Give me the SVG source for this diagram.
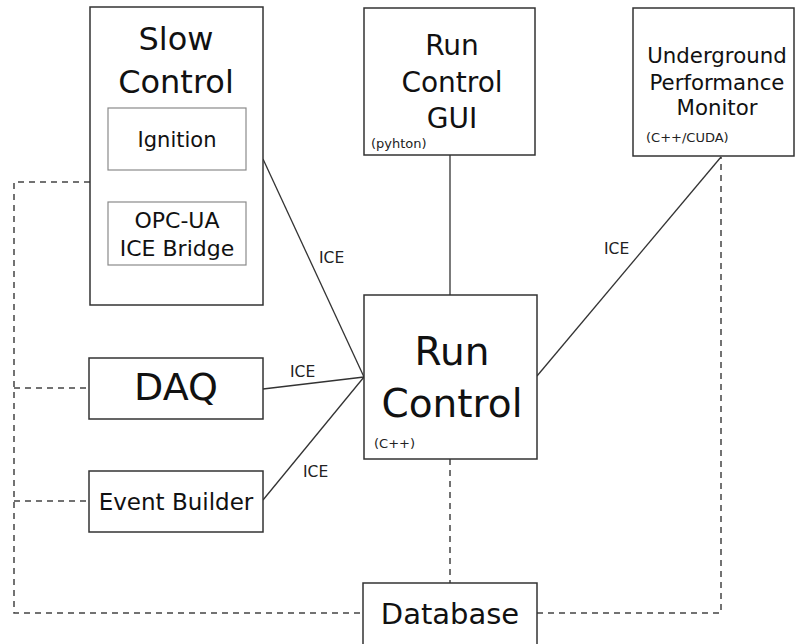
<svg xmlns="http://www.w3.org/2000/svg" width="795" height="644" viewBox="0 0 795 644">
  <style>
    .box { fill: #ffffff; stroke: #333333; stroke-width: 1.5; }
    .inner { fill: #ffffff; stroke: #8a8a8a; stroke-width: 1.2; }
    .t { font-family: "DejaVu Sans", sans-serif; fill: #111111; text-anchor: middle; }
    .s { font-family: "DejaVu Sans", sans-serif; fill: #222222; font-size: 13px; }
    .link { stroke: #333333; stroke-width: 1.3; fill: none; }
    .dash { stroke: #444444; stroke-width: 1.5; fill: none; stroke-dasharray: 6 5; }
    .lbl { font-family: "DejaVu Sans", sans-serif; fill: #222222; font-size: 15.5px; }
  </style>

  <!-- connectors -->
  <g id="connectors">
    <!-- database links -->
    <polyline class="dash" points="90,182 14,182 14,613 363,613"/>
    <line class="dash" x1="14" y1="388" x2="89" y2="388"/>
    <line class="dash" x1="14" y1="501" x2="89" y2="501"/>
    <polyline class="dash" points="537,613 721,613 721,157"/>
    <line class="dash" x1="450" y1="459" x2="450" y2="583"/>
    <!-- GUI to run control -->
    <line class="link" x1="450" y1="155" x2="450" y2="295"/>
    <!-- ICE links -->
    <line class="link" x1="263" y1="159" x2="364" y2="377"/>
    <line class="link" x1="263" y1="389" x2="364" y2="377"/>
    <line class="link" x1="263" y1="500" x2="364" y2="377"/>
    <line class="link" x1="537" y1="376" x2="721" y2="157"/>
    <text class="lbl" x="319" y="263">ICE</text>
    <text class="lbl" x="290" y="377">ICE</text>
    <text class="lbl" x="303" y="477">ICE</text>
    <text class="lbl" x="604" y="254">ICE</text>
  </g>

  <!-- Slow Control -->
  <g id="slow-control">
    <rect class="box" x="90" y="7" width="173" height="298"/>
    <text class="t" x="176" y="50" font-size="32">Slow</text>
    <text class="t" x="176" y="93" font-size="32">Control</text>
    <g id="ignition">
      <rect class="inner" x="108" y="108" width="138" height="62"/>
      <text class="t" x="177" y="147" font-size="21">Ignition</text>
    </g>
    <g id="opcua-bridge">
      <rect class="inner" x="108" y="202" width="138" height="63"/>
      <text class="t" x="177" y="228" font-size="22">OPC-UA</text>
      <text class="t" x="177" y="256" font-size="22">ICE Bridge</text>
    </g>
  </g>

  <!-- Run Control GUI -->
  <g id="run-control-gui">
    <rect class="box" x="364" y="8" width="171" height="147"/>
    <text class="t" x="452" y="55" font-size="28">Run</text>
    <text class="t" x="452" y="92" font-size="28">Control</text>
    <text class="t" x="452" y="128" font-size="28">GUI</text>
    <text class="s" x="371" y="148">(pyhton)</text>
  </g>

  <!-- Underground Performance Monitor -->
  <g id="upm">
    <rect class="box" x="633" y="8" width="161" height="148"/>
    <text class="t" x="717" y="63" font-size="21.3">Underground</text>
    <text class="t" x="717" y="90" font-size="21.3">Performance</text>
    <text class="t" x="717" y="115" font-size="21.3">Monitor</text>
    <text class="s" x="646" y="142">(C++/CUDA)</text>
  </g>

  <!-- Run Control -->
  <g id="run-control">
    <rect class="box" x="364" y="295" width="173" height="164"/>
    <text class="t" x="452" y="365" font-size="39">Run</text>
    <text class="t" x="452" y="417" font-size="39">Control</text>
    <text class="s" x="374" y="448">(C++)</text>
  </g>

  <!-- DAQ -->
  <g id="daq">
    <rect class="box" x="89" y="358" width="174" height="61"/>
    <text class="t" x="176" y="400" font-size="38">DAQ</text>
  </g>

  <!-- Event Builder -->
  <g id="event-builder">
    <rect class="box" x="89" y="471" width="174" height="61"/>
    <text class="t" x="176" y="510" font-size="23">Event Builder</text>
  </g>

  <!-- Database -->
  <g id="database">
    <rect class="box" x="363" y="583" width="174" height="62"/>
    <text class="t" x="450" y="624" font-size="29">Database</text>
  </g>
</svg>
